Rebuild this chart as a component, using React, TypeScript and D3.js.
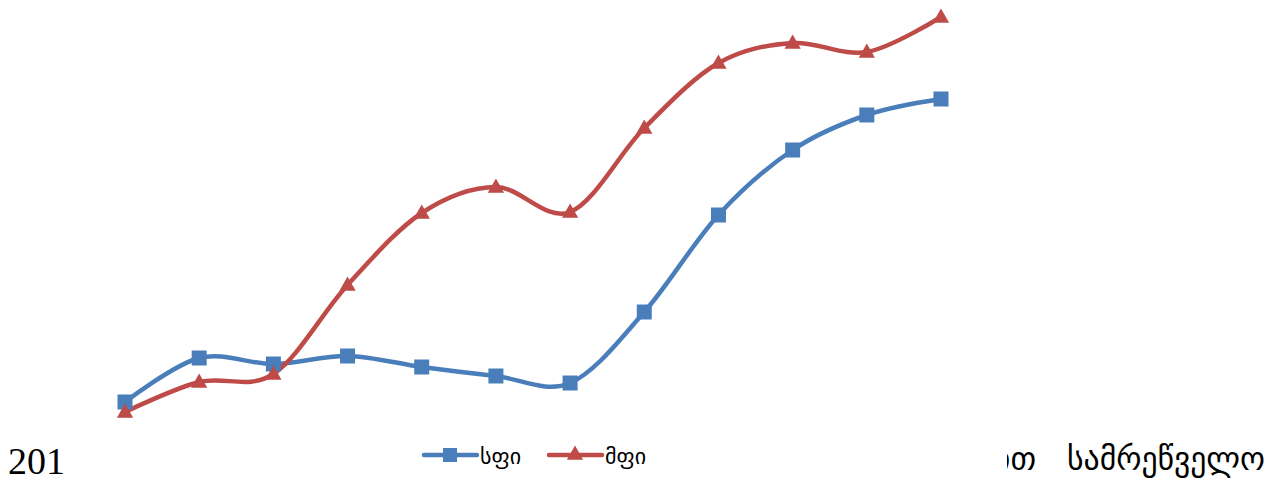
import React from "react";
import * as d3 from "d3";

const categories = ["1", "2", "3", "4", "5", "6", "7", "8", "9", "10", "11", "12"];
const sfiValues = [30, 74, 68, 76, 65, 56, 49, 120, 217, 282, 317, 333];
const mfiValues = [20, 50, 58, 147, 219, 245, 220, 304, 369, 389, 380, 415];
const seriesNames = ["სფი", "მფი"];
const leftText = "201";
const rightWords = ["ით", "სამრეწველო"];

const BLUE = "#4A7EBB";
const RED = "#BE4B48";

export default function App() {
  const W = 1269;
  const H = 481;
  const x = d3.scalePoint<string>().domain(categories).range([125, 941]);
  const y = d3.scaleLinear().domain([0, 420]).range([432, 12]);
  const line = d3
    .line<number>()
    .x((_, i) => x(categories[i]) as number)
    .y((d) => y(d))
    .curve(d3.curveCardinal.tension(0));

  const sq = 15;
  const tri = d3.symbol().type(d3.symbolTriangle).size(115)();

  return (
    <svg
      width={W}
      height={H}
      style={{ position: "absolute", left: 0, top: 0, background: "#fff" }}
    >
      <defs>
        <clipPath id="rclip">
          <rect x={1007} y={430} width={262} height={51} />
        </clipPath>
      </defs>
      <path d={line(sfiValues) || ""} fill="none" stroke={BLUE} strokeWidth={4.5} />
      <path d={line(mfiValues) || ""} fill="none" stroke={RED} strokeWidth={4.5} />
      {sfiValues.map((v, i) => (
        <rect
          key={"s" + i}
          x={(x(categories[i]) as number) - sq / 2}
          y={y(v) - sq / 2}
          width={sq}
          height={sq}
          fill={BLUE}
        />
      ))}
      {mfiValues.map((v, i) => (
        <path
          key={"m" + i}
          d={tri || ""}
          transform={`translate(${x(categories[i])},${y(v) + 1})`}
          fill={RED}
        />
      ))}
      {/* legend */}
      <g>
        <line x1={424} x2={477} y1={455} y2={455} stroke={BLUE} strokeWidth={4.5} strokeLinecap="round" />
        <rect x={443} y={448} width={14} height={14} fill={BLUE} />
        <text x={480} y={464} fontFamily="DejaVu Sans" fontSize={22} fill="#000">
          {seriesNames[0]}
        </text>
        <line x1={549} x2={602} y1={455} y2={455} stroke={RED} strokeWidth={4.5} strokeLinecap="round" />
        <path d={tri || ""} transform="translate(575,455)" fill={RED} />
        <text x={605} y={464} fontFamily="DejaVu Sans" fontSize={22} fill="#000">
          {seriesNames[1]}
        </text>
      </g>
      <text x={8} y={474} fontFamily="Liberation Serif" fontSize={38} fill="#000">
        {leftText}
      </text>
      <g clipPath="url(#rclip)">
        <text x={1036} y={470} textAnchor="end" fontFamily="DejaVu Sans" fontSize={32} fill="#000">
          {rightWords[0]}
        </text>
        <text x={1067} y={470} textLength={198} lengthAdjust="spacingAndGlyphs" fontFamily="DejaVu Sans" fontSize={32} fill="#000">
          {rightWords[1]}
        </text>
      </g>
    </svg>
  );
}
